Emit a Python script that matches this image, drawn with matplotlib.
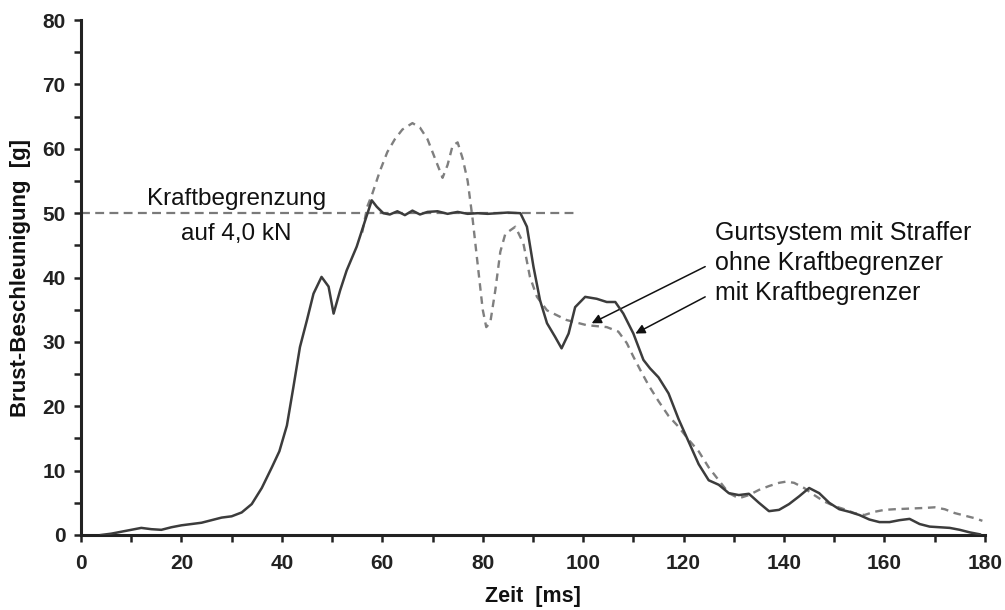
import matplotlib
matplotlib.use("Agg")
import matplotlib.pyplot as plt
from matplotlib.ticker import MultipleLocator

plt.rcParams['font.family'] = ['Liberation Sans', 'DejaVu Sans']

# Solid: mit Kraftbegrenzer
t_mit = [4, 6, 8, 10, 12, 14, 16, 18, 20, 22, 24, 26, 28, 30, 32, 34, 36, 38, 39.5, 41, 42.3,
         43.6, 45, 46.3, 47.9, 49.3, 50.3, 51.6, 52.9, 54.9, 56.6, 57.9, 58.9, 60.2, 61.5, 63,
         64.5, 66, 67.5, 69, 71, 73, 75, 77, 79, 81, 83, 85, 87.5, 88.8, 90.1, 91.4, 92.8,
         94.4, 95.7, 97.1, 98.4, 100.4, 102.7, 104.7, 106.4, 108, 110, 112, 113.3, 115, 117,
         119, 121, 123, 125, 127, 129, 131, 133, 135, 137, 139, 141, 143, 145, 147, 149, 151,
         153, 155, 157, 159, 161, 163, 165, 167, 169, 171, 173, 175, 177, 179]
a_mit = [0, 0.2, 0.5, 0.8, 1.1, 0.9, 0.8, 1.2, 1.5, 1.7, 1.9, 2.3, 2.7, 2.9, 3.5, 4.8, 7.3,
         10.5, 13.0, 17.0, 23.0, 29.2, 33.4, 37.5, 40.1, 38.6, 34.4, 38.0, 41.1, 44.8, 48.9,
         52.0, 51.0, 50.0, 49.8, 50.3, 49.7, 50.4, 49.8, 50.2, 50.3, 49.9, 50.2, 49.9, 50,
         49.9, 50, 50.1, 50, 47.9, 41.7, 36.5, 32.9, 30.8, 29.0, 31.3, 35.4, 37.0, 36.7, 36.2,
         36.2, 34.4, 31.3, 27.2, 25.9, 24.5, 22, 18, 14.5, 11, 8.5, 7.8, 6.5, 6.2, 6.4, 5.0,
         3.7, 3.9, 4.8, 6.0, 7.3, 6.5, 5.0, 4.0, 3.6, 3.1, 2.4, 2.0, 2.0, 2.3, 2.5, 1.7, 1.3,
         1.2, 1.1, 0.8, 0.4, 0.1]

# Dashed: ohne Kraftbegrenzer (identical to solid before 56 ms)
t_ohne = [56, 57, 58, 59.5, 61, 62.5, 64, 66, 67.5, 69, 70.5, 72, 73, 74, 75, 76, 77, 78, 79,
          80, 80.7, 81.5, 82.5, 83.5, 84.5, 86.5, 88.1, 89.4, 90.8, 92.8, 96.7, 100.7, 104.7,
          107, 108.7, 110, 111.4, 113, 115, 117, 119, 121, 123, 125, 127, 129, 131, 133, 135,
          137, 139, 140.5, 142, 144, 146, 148, 150, 152, 154, 156, 158, 160, 162, 165, 168,
          170, 172, 174, 176, 178, 179.5]
a_ohne = [47, 51, 53, 56.5, 59.5, 61.5, 63, 64, 63.3, 61.5, 58.5, 55.5, 57.5, 60.5, 61, 58.5,
          55, 49, 42, 35, 32.3, 33, 38, 44, 46.8, 47.9, 45.3, 40.1, 37.0, 34.9, 33.4, 32.6,
          32.3, 31.6, 29.8, 27.7, 25.6, 23.3, 20.8, 18.5, 16.8, 14.8, 13, 10.5, 8.5, 6.5, 5.7,
          6.2, 7.0, 7.6, 8.1, 8.3, 8.1, 7.3, 6.2, 5.2, 4.5, 4.0, 3.4, 3.1, 3.6, 3.9, 4.0, 4.1,
          4.2, 4.3, 4.0, 3.4, 3.0, 2.6, 2.2]

limit_level = 50
limit_range = [0, 99]

x_ticks = [0, 20, 40, 60, 80, 100, 120, 140, 160, 180]
y_ticks = [0, 10, 20, 30, 40, 50, 60, 70, 80]

fig = plt.figure(figsize=(10.05, 6.10), dpi=100)
ax = fig.add_axes([0.0806, 0.123, 0.8994, 0.844])

ax.plot(limit_range, [limit_level, limit_level], color='#7a7a7a', lw=1.6,
        linestyle=(0, (4, 2.4)), zorder=2)
ax.plot(t_ohne, a_ohne, color='#7f7f7f', lw=1.7, linestyle=(0, (3.2, 2.4)), zorder=3)
ax.plot(t_mit, a_mit, color='#3c3c3c', lw=1.8, zorder=4)

ax.set_xlim(0, 180)
ax.set_ylim(0, 80)
ax.set_xticks(x_ticks)
ax.set_yticks(y_ticks)
ax.xaxis.set_minor_locator(MultipleLocator(10))
ax.yaxis.set_minor_locator(MultipleLocator(5))
ax.tick_params(which='both', direction='out', length=5, width=1.8, color='#222222',
               labelsize=15, labelcolor='#222222')
for lab in ax.get_xticklabels() + ax.get_yticklabels():
    lab.set_fontweight('bold')
ax.tick_params(axis='x', pad=9)
ax.tick_params(axis='y', pad=6)

for s in ['top', 'right']:
    ax.spines[s].set_visible(False)
for s in ['left', 'bottom']:
    ax.spines[s].set_linewidth(2.2)
    ax.spines[s].set_color('#222222')

ax.set_xlabel('Zeit  [ms]', fontsize=15.5, fontweight='bold', color='#111111', labelpad=9)
ax.set_ylabel('Brust-Beschleunigung  [g]', fontsize=16, fontweight='bold', color='#111111',
              labelpad=8)

ax.text(30.9, 51.2, 'Kraftbegrenzung', ha='center', va='baseline', fontsize=17.5,
        color='#111111')
ax.text(30.9, 45.8, 'auf 4,0 kN', ha='center', va='baseline', fontsize=17.5, color='#111111')

ax.text(126.3, 45.8, 'Gurtsystem mit Straffer', ha='left', va='baseline', fontsize=18,
        color='#111111')
ax.text(126.3, 41.15, 'ohne Kraftbegrenzer', ha='left', va='baseline', fontsize=18,
        color='#111111')
ax.text(126.3, 36.5, 'mit Kraftbegrenzer', ha='left', va='baseline', fontsize=18,
        color='#111111')

arrowprops = dict(arrowstyle='-|>', color='#111111', lw=1.1, mutation_scale=14,
                  shrinkA=0, shrinkB=0)
ax.annotate('', xy=(101.7, 32.9), xytext=(124.3, 41.7), arrowprops=arrowprops)
ax.annotate('', xy=(110.4, 31.3), xytext=(124.3, 37.0), arrowprops=arrowprops)

fig.savefig('out.png', dpi=100)
